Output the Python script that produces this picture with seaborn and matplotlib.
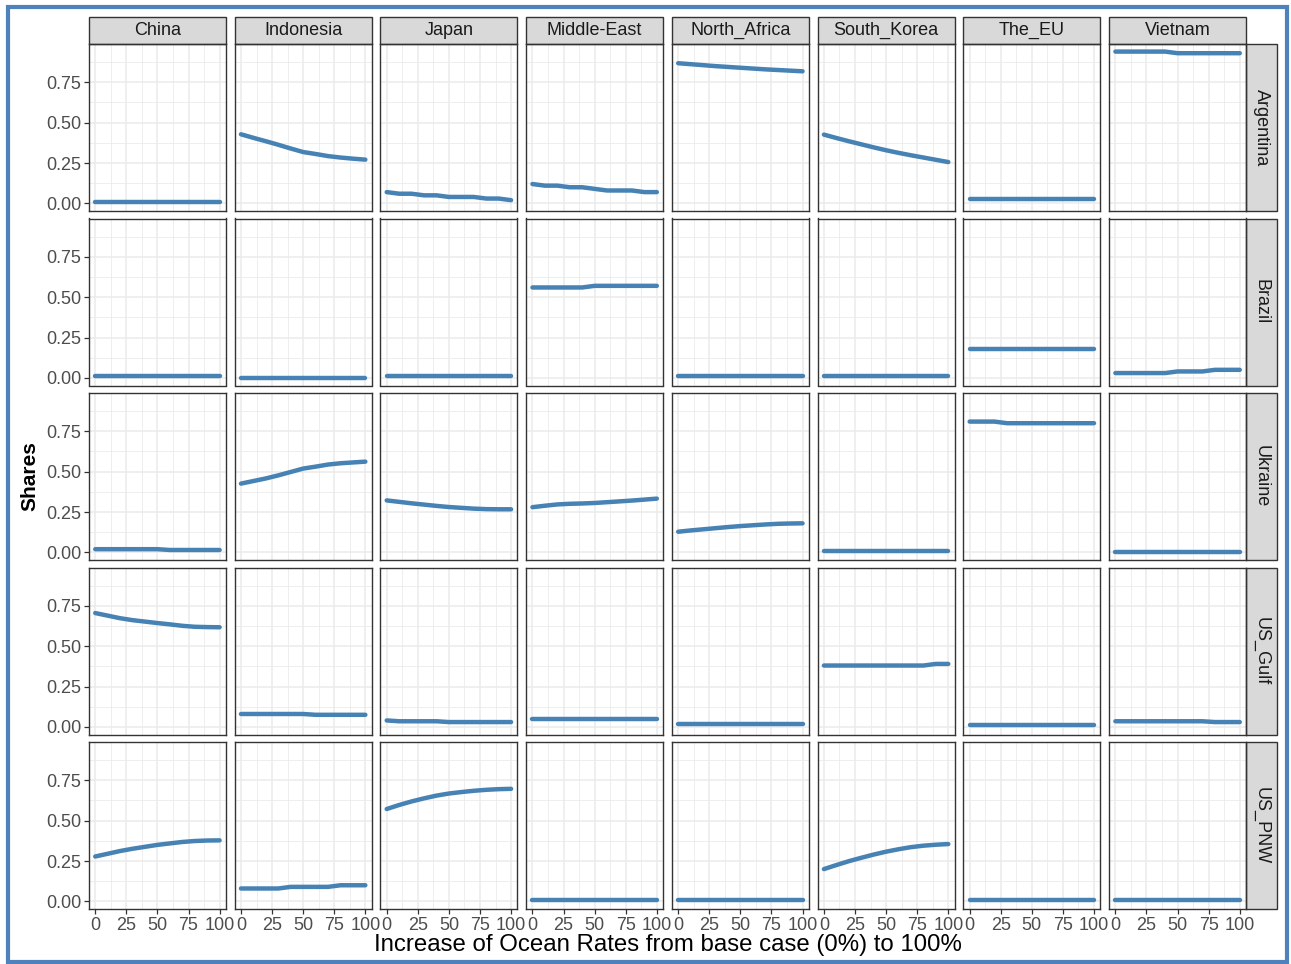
import numpy as np
import pandas as pd
import seaborn as sns
import matplotlib
matplotlib.use("Agg")
import matplotlib.pyplot as plt
from matplotlib.patches import Rectangle
from matplotlib.ticker import FixedLocator

# Ocean-rate increase scenarios (% over base case)
increase = [0, 10, 20, 30, 40, 50, 60, 70, 80, 90, 100]

importers = ["China", "Indonesia", "Japan", "Middle-East", "North_Africa",
             "South_Korea", "The_EU", "Vietnam"]
exporters = ["Argentina", "Brazil", "Ukraine", "US_Gulf", "US_PNW"]

# Market shares per exporter, one list per importer (same order as `importers`)
argentina = [
    [0.01] * 11,
    [0.428, 0.406, 0.385, 0.363, 0.340, 0.318, 0.306, 0.293, 0.284, 0.277, 0.271],
    [0.07, 0.06, 0.06, 0.05, 0.05, 0.04, 0.04, 0.04, 0.03, 0.03, 0.02],
    [0.12, 0.11, 0.11, 0.10, 0.10, 0.09, 0.08, 0.08, 0.08, 0.07, 0.07],
    [0.868, 0.862, 0.856, 0.850, 0.845, 0.840, 0.835, 0.830, 0.826, 0.822, 0.818],
    [0.426, 0.405, 0.385, 0.366, 0.347, 0.329, 0.313, 0.298, 0.284, 0.270, 0.256],
    [0.03] * 11,
    [0.94, 0.94, 0.94, 0.94, 0.94, 0.93, 0.93, 0.93, 0.93, 0.93, 0.93],
]
brazil = [
    [0.01] * 11,
    [0.00] * 11,
    [0.01] * 11,
    [0.56, 0.56, 0.56, 0.56, 0.56, 0.57, 0.57, 0.57, 0.57, 0.57, 0.57],
    [0.01] * 11,
    [0.01] * 11,
    [0.18] * 11,
    [0.03, 0.03, 0.03, 0.03, 0.03, 0.04, 0.04, 0.04, 0.05, 0.05, 0.05],
]
ukraine = [
    [0.02, 0.02, 0.02, 0.02, 0.02, 0.02, 0.015, 0.015, 0.015, 0.015, 0.015],
    [0.426, 0.442, 0.458, 0.477, 0.498, 0.519, 0.531, 0.544, 0.552, 0.557, 0.562],
    [0.322, 0.313, 0.304, 0.296, 0.288, 0.281, 0.276, 0.271, 0.268, 0.267, 0.267],
    [0.280, 0.289, 0.297, 0.301, 0.303, 0.306, 0.311, 0.316, 0.321, 0.327, 0.333],
    [0.128, 0.136, 0.143, 0.150, 0.157, 0.163, 0.168, 0.173, 0.177, 0.179, 0.180],
    [0.01] * 11,
    [0.81, 0.81, 0.81, 0.80, 0.80, 0.80, 0.80, 0.80, 0.80, 0.80, 0.80],
    [0.00] * 11,
]
us_gulf = [
    [0.705, 0.689, 0.673, 0.661, 0.652, 0.643, 0.635, 0.626, 0.620, 0.618, 0.617],
    [0.08, 0.08, 0.08, 0.08, 0.08, 0.08, 0.075, 0.075, 0.075, 0.075, 0.075],
    [0.04, 0.035, 0.035, 0.035, 0.035, 0.03, 0.03, 0.03, 0.03, 0.03, 0.03],
    [0.05] * 11,
    [0.015] * 11,
    [0.38, 0.38, 0.38, 0.38, 0.38, 0.38, 0.38, 0.38, 0.38, 0.39, 0.39],
    [0.01] * 11,
    [0.035, 0.035, 0.035, 0.035, 0.035, 0.035, 0.035, 0.035, 0.03, 0.03, 0.03],
]
us_pnw = [
    [0.278, 0.295, 0.312, 0.326, 0.338, 0.350, 0.359, 0.368, 0.374, 0.377, 0.378],
    [0.08, 0.08, 0.08, 0.08, 0.09, 0.09, 0.09, 0.09, 0.10, 0.10, 0.10],
    [0.572, 0.597, 0.619, 0.638, 0.655, 0.668, 0.677, 0.685, 0.691, 0.695, 0.697],
    [0.01] * 11,
    [0.01] * 11,
    [0.200, 0.225, 0.249, 0.270, 0.290, 0.308, 0.323, 0.336, 0.345, 0.351, 0.355],
    [0.01] * 11,
    [0.01] * 11,
]

x_ticks = [0, 25, 50, 75, 100]
x_tick_labels = ["0", "25", "50", "75", "100"]
y_ticks = [0.0, 0.25, 0.5, 0.75]
y_tick_labels = ["0.00", "0.25", "0.50", "0.75"]

# Long-format table for faceting
rows = []
for exp, block in zip(exporters, [argentina, brazil, ukraine, us_gulf, us_pnw]):
    for imp, series in zip(importers, block):
        for xv, yv in zip(increase, series):
            rows.append({"exporter": exp, "importer": imp, "increase": xv, "share": yv})
df = pd.DataFrame(rows)

sns.set_theme(style="white")
plt.rcParams["font.family"] = ["Liberation Sans", "DejaVu Sans"]

W, H = 1291, 964
g = sns.relplot(
    data=df, x="increase", y="share", row="exporter", col="importer",
    row_order=exporters, col_order=importers, kind="line",
    color="#4682B4", linewidth=3.2, height=2, aspect=1,
    facet_kws=dict(sharex=True, sharey=True, despine=False),
)
fig = g.figure
fig.set_size_inches(W / 100, H / 100)
fig.set_dpi(100)

left, right, top, bottom = 89 / W, 1246 / W, 1 - 44 / H, 1 - 909 / H
pw, ph = 137.0, 167.0
fig.subplots_adjust(left=left, right=right, top=top, bottom=bottom,
                    wspace=8.9 / pw, hspace=7.5 / ph)

# ggplot-style expansion of the data range
ymin, ymax = df["share"].min(), df["share"].max()
ypad = 0.05 * (ymax - ymin)
ylim = (ymin - ypad, ymax + ypad)
xlim = (-5, 105)

tick_col = "#4D4D4D"
border_col = "#333333"
grid_col = "#EBEBEB"

g.set_titles("")
g.set_axis_labels("", "")
nr, nc = g.axes.shape
for i in range(nr):
    for j in range(nc):
        ax = g.axes[i, j]
        ax.set_xlim(*xlim)
        ax.set_ylim(*ylim)
        ax.set_facecolor("white")
        ax.xaxis.set_major_locator(FixedLocator(x_ticks))
        ax.xaxis.set_minor_locator(FixedLocator([12.5, 37.5, 62.5, 87.5]))
        ax.yaxis.set_major_locator(FixedLocator(y_ticks))
        ax.yaxis.set_minor_locator(FixedLocator([0.125, 0.375, 0.625, 0.875]))
        ax.grid(which="major", color=grid_col, linewidth=1.1, zorder=0)
        ax.grid(which="minor", color=grid_col, linewidth=0.6, zorder=0)
        ax.set_axisbelow(True)
        for sp in ax.spines.values():
            sp.set_color(border_col)
            sp.set_linewidth(1.0)
            sp.set_visible(True)
        ax.tick_params(which="minor", length=0)
        ax.tick_params(which="major", length=3.5, width=0.9, color=border_col,
                       labelcolor=tick_col, labelsize=13, pad=2,
                       left=(j == 0), bottom=(i == nr - 1),
                       labelleft=(j == 0), labelbottom=(i == nr - 1))
        if i == nr - 1:
            ax.set_xticklabels(x_tick_labels)
        if j == 0:
            ax.set_yticklabels(y_tick_labels)

# Facet strips: importers on top, exporters on the right
sh = 27 / ph
sw = 31 / pw
for j, name in enumerate(importers):
    ax = g.axes[0, j]
    ax.add_patch(Rectangle((0, 1), 1, sh, transform=ax.transAxes, clip_on=False,
                           facecolor="#D9D9D9", edgecolor=border_col, linewidth=1.0))
    ax.text(0.5, 1 + sh / 2, name, transform=ax.transAxes, ha="center", va="center",
            fontsize=13, color="#1A1A1A")
for i, name in enumerate(exporters):
    ax = g.axes[i, -1]
    ax.add_patch(Rectangle((1, 0), sw, 1, transform=ax.transAxes, clip_on=False,
                           facecolor="#D9D9D9", edgecolor=border_col, linewidth=1.0))
    ax.text(1 + sw / 2, 0.5, name, transform=ax.transAxes, ha="center", va="center",
            rotation=-90, fontsize=13, color="#1A1A1A")

fig.text((89 + 1246) / 2 / W, 1 - 945 / H,
         "Increase of Ocean Rates from base case (0%) to 100%",
         ha="center", va="center", fontsize=17.3, color="black")
fig.text(30 / W, 1 - 476 / H, "Shares", ha="center", va="center",
         rotation=90, fontsize=15, fontweight="bold", color="black")

# Outer frame
fig.add_artist(Rectangle((8 / W, 2 / H), 1279 / W, 955 / H, transform=fig.transFigure,
                         fill=False, edgecolor="#4F81BD", linewidth=3))

fig.savefig("out.png", dpi=100)
